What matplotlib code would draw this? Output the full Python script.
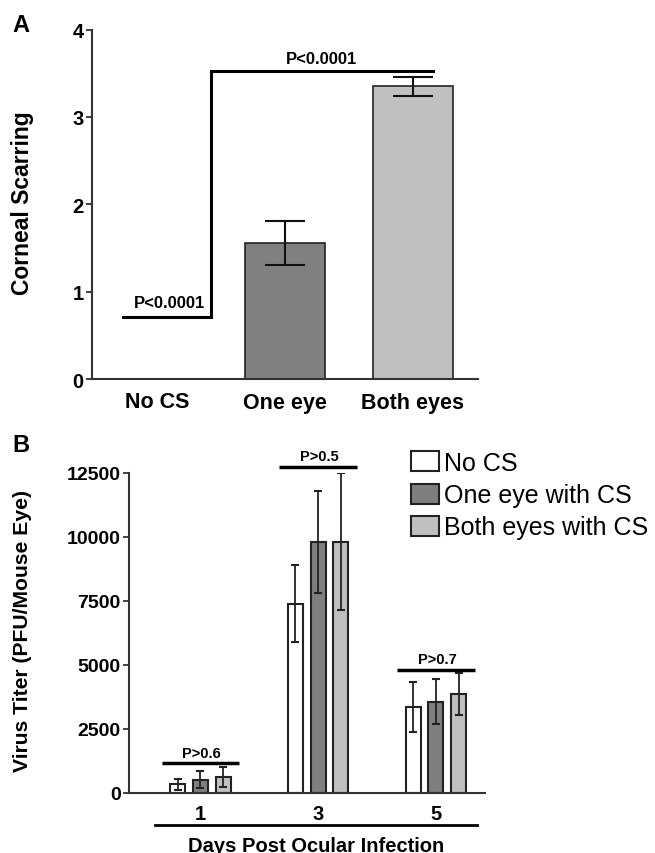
import numpy as np
import matplotlib
matplotlib.use("Agg")
import matplotlib.pyplot as plt
import matplotlib.transforms as mtransforms

plt.rcParams['font.family'] = ['Liberation Sans', 'DejaVu Sans']

# ---- Panel A data ----
a_groups = ["No CS", "One eye", "Both eyes"]
a_means = [0.0, 1.56, 3.35]
a_errs = [0.0, 0.25, 0.11]
a_colors = ["white", "#808080", "#c0c0c0"]

# ---- Panel B data ----
b_days = ["1", "3", "5"]
b_series = ["No CS", "One eye with CS", "Both eyes with CS"]
b_no_cs = [340, 7390, 3360]
b_no_cs_err = [205, 1500, 985]
b_one_eye = [510, 9800, 3570]
b_one_eye_err = [330, 1980, 880]
b_both_eyes = [630, 9820, 3860]
b_both_eyes_err = [390, 2680, 820]
b_pvals = ["P>0.6", "P>0.5", "P>0.7"]
b_pline_y = [1160, 12745, 4816]

fig = plt.figure(figsize=(6.55, 8.54), dpi=100)

# ================= Panel A =================
axA = fig.add_axes([92/655, 1 - 380/854, 386/655, 349.5/854])
xa = np.arange(len(a_groups))
axA.bar(xa, a_means, width=0.625, color=a_colors, edgecolor="#222222", linewidth=1.2)
for x, m, e in zip(xa, a_means, a_errs):
    if e > 0:
        axA.errorbar(x, m, yerr=e, fmt="none", ecolor="#111111", elinewidth=1.5,
                     capsize=14.5, capthick=1.5)
axA.set_xlim(-0.51, 2.51)
axA.set_ylim(0, 4)
axA.set_yticks([0, 1, 2, 3, 4])
axA.set_xticks(xa)
axA.set_xticklabels(a_groups, fontsize=15.5, fontweight="bold")
axA.tick_params(axis="x", length=0, pad=9)
axA.tick_params(axis="y", length=4, width=1.3, color="#333333", pad=2, labelsize=14.5)
for lab in axA.get_yticklabels():
    lab.set_fontweight("bold")
for s in ["top", "right"]:
    axA.spines[s].set_visible(False)
for s in ["left", "bottom"]:
    axA.spines[s].set_linewidth(1.5)
    axA.spines[s].set_color("#333333")
axA.set_ylabel("Corneal Scarring", fontsize=16.5, fontweight="bold")
axA.yaxis.set_label_coords((34 - 92) / 386, 0.505)

# significance bracket
axA.plot([-0.27, 0.42, 0.42, 2.16], [0.71, 0.71, 3.53, 3.53], color="black",
         lw=2.2, solid_joinstyle="miter", clip_on=False)
axA.text(0.10, 0.87, "P<0.0001", ha="center", va="center", fontsize=12, fontweight="bold")
axA.text(1.285, 3.67, "P<0.0001", ha="center", va="center", fontsize=12, fontweight="bold")
fig.text(12/655, 1 - 26/854, "A", fontsize=17, fontweight="bold", va="center", ha="left")

# ================= Panel B =================
axB = fig.add_axes([129/655, 1 - 794/854, 356/655, 320/854])
xb = np.arange(len(b_days))
pitch = 0.193
w = 0.129
vals = [b_no_cs, b_one_eye, b_both_eyes]
errs = [b_no_cs_err, b_one_eye_err, b_both_eyes_err]
cols = ["white", "#7f7f7f", "#c0c0c0"]
handles = []
for i, (v, e, c, name) in enumerate(zip(vals, errs, cols, b_series)):
    pos = xb + (i - 1) * pitch
    h = axB.bar(pos, v, width=w, color=c, edgecolor="#222222", linewidth=1.5, label=name)
    axB.errorbar(pos, v, yerr=e, fmt="none", ecolor="#222222", elinewidth=1.3,
                 capsize=2.8, capthick=1.5)
    handles.append(h)
axB.set_xlim(-0.607, 2.418)
axB.set_ylim(0, 12500)
axB.set_yticks([0, 2500, 5000, 7500, 10000, 12500])
axB.set_xticks(xb)
axB.set_xticklabels(b_days, fontsize=14.5, fontweight="bold")
axB.tick_params(axis="x", length=0, pad=8)
axB.tick_params(axis="y", length=4, width=1.3, color="#333333", pad=2, labelsize=14)
for lab in axB.get_yticklabels():
    lab.set_fontweight("bold")
for s in ["top", "right"]:
    axB.spines[s].set_visible(False)
for s in ["left", "bottom"]:
    axB.spines[s].set_linewidth(1.5)
    axB.spines[s].set_color("#333333")
axB.set_ylabel("Virus Titer (PFU/Mouse Eye)", fontsize=15.2, fontweight="bold")
axB.yaxis.set_label_coords((32 - 129) / 356, 0.51)

# p-value lines over each day
for x, txt, ly in zip(xb, b_pvals, b_pline_y):
    axB.plot([x - 0.33, x + 0.33], [ly, ly], color="black", lw=2.5, clip_on=False,
             solid_capstyle="butt")
    axB.text(x + 0.01, ly + 400, txt, ha="center", va="center", fontsize=10.5,
             fontweight="bold")

# line and label below the day numbers
trans = mtransforms.blended_transform_factory(axB.transData, axB.transAxes)
axB.plot([-0.386, 2.35], [-0.1, -0.1], color="black", lw=2.0, transform=trans,
         clip_on=False)
axB.text(0.98, -0.163, "Days Post Ocular Infection", transform=trans, ha="center",
         va="center", fontsize=14.5, fontweight="bold")
fig.text(12/655, 1 - 446/854, "B", fontsize=17, fontweight="bold", va="center", ha="left")

fig.legend(handles=handles, labels=b_series, loc="upper left",
           bbox_to_anchor=(411/655, 1 - 452/854), frameon=False, fontsize=18,
           handlelength=1.1, handleheight=0.85, handletextpad=0.2,
           labelspacing=0.33, borderaxespad=0, borderpad=0)

fig.savefig("out.png", dpi=100, facecolor="white")
